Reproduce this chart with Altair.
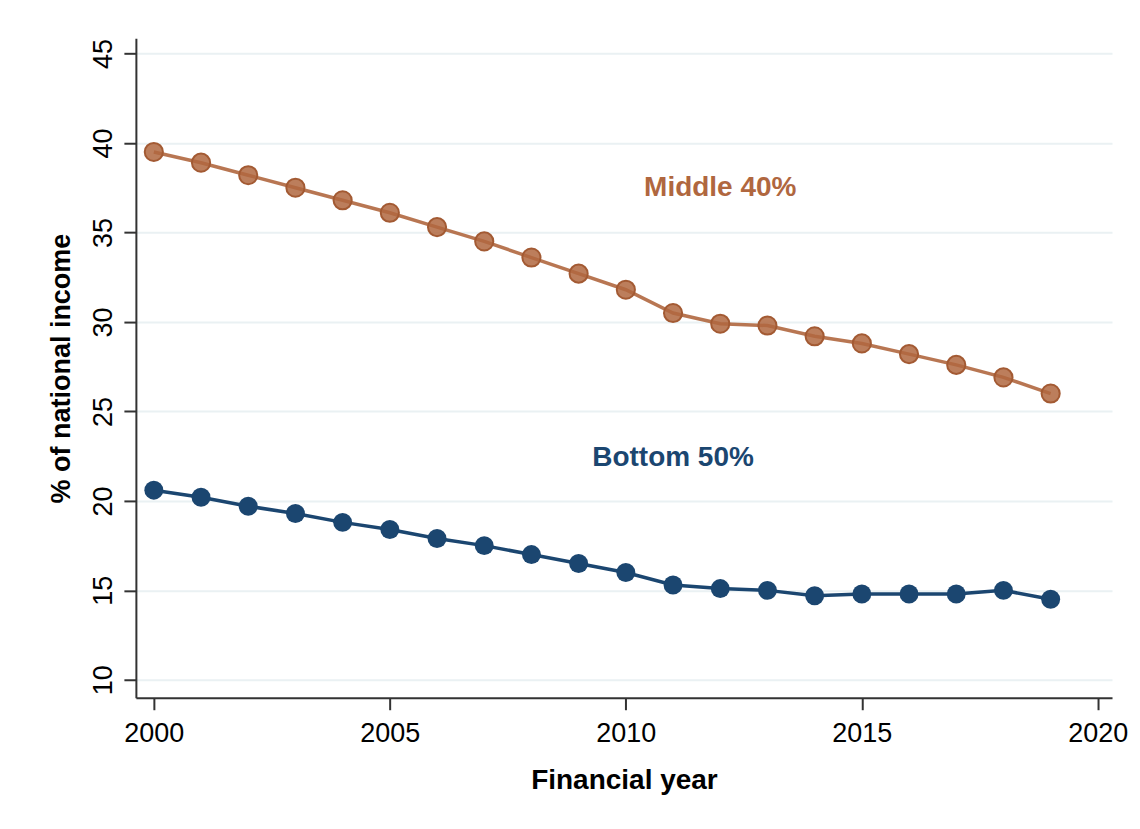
import altair as alt
import pandas as pd

years = list(range(2000, 2020))
middle40 = [39.5, 38.9, 38.2, 37.5, 36.8, 36.1, 35.3, 34.5, 33.6, 32.7,
            31.8, 30.5, 29.9, 29.8, 29.2, 28.8, 28.2, 27.6, 26.9, 26.0]
bottom50 = [20.6, 20.2, 19.7, 19.3, 18.8, 18.4, 17.9, 17.5, 17.0, 16.5,
            16.0, 15.3, 15.1, 15.0, 14.7, 14.8, 14.8, 14.8, 15.0, 14.5]

label_text = ["Middle 40%", "Bottom 50%"]
label_x = [2012.0, 2011.0]
label_y = [37.5, 22.4]

BROWN = "#b0673f"
NAVY = "#1b4670"

df_m = pd.DataFrame({"year": years, "value": middle40})
df_b = pd.DataFrame({"year": years, "value": bottom50})
df_l = pd.DataFrame({"text": label_text, "x": label_x, "y": label_y,
                     "group": ["m", "b"]})

xs = alt.Scale(domain=[1999.62, 2020.3], nice=False, zero=False)
ys = alt.Scale(domain=[9.0, 45.85], nice=False, zero=False)

xax = alt.Axis(values=[2000, 2005, 2010, 2015, 2020], format="d",
               title="Financial year", grid=False, tickSize=12,
               labelFontSize=27, titleFontSize=28, titlePadding=20,
               labelPadding=11)
yax = alt.Axis(values=[10, 15, 20, 25, 30, 35, 40, 45],
               title="% of national income", grid=True, tickSize=12,
               labelAngle=-90, labelAlign="center", labelBaseline="bottom",
               labelFontSize=27, titleFontSize=27, labelPadding=6,
               titlePadding=14)

base_x = alt.X("year:Q", scale=xs, axis=xax)
base_y = alt.Y("value:Q", scale=ys, axis=yax)

line_m = alt.Chart(df_m).mark_line(color=BROWN, strokeWidth=3.5, opacity=0.9).encode(x=base_x, y=base_y)
pts_m = alt.Chart(df_m).mark_point(filled=True, shape="circle", size=330,
                                   fill=BROWN, fillOpacity=0.85,
                                   stroke="#a35a33", strokeWidth=2,
                                   strokeOpacity=1).encode(x=base_x, y=base_y)
line_b = alt.Chart(df_b).mark_line(color=NAVY, strokeWidth=3.5).encode(x=base_x, y=base_y)
pts_b = alt.Chart(df_b).mark_point(filled=True, shape="circle", size=360,
                                   fill=NAVY, opacity=1).encode(x=base_x, y=base_y)

labels = alt.Chart(df_l).mark_text(fontSize=28, fontWeight="bold",
                                   font="Liberation Sans").encode(
    x=alt.X("x:Q", scale=xs),
    y=alt.Y("y:Q", scale=ys),
    text="text:N",
    color=alt.Color("group:N", scale=alt.Scale(domain=["m", "b"], range=[BROWN, NAVY]), legend=None),
)

chart = alt.layer(line_m, pts_m, line_b, pts_b, labels).properties(
    width=977, height=660,
    autosize=alt.AutoSizeParams(type="none"),
    padding={"left": 128, "top": 30, "right": 20, "bottom": 100},
).configure(font="Liberation Sans").configure_axis(
    domainColor="#333333", domainWidth=2, tickColor="#333333", tickWidth=2,
    gridColor="#eaf1f3", gridWidth=2, labelColor="#000000",
    titleColor="#000000", labelFont="Liberation Sans", titleFont="Liberation Sans",
    titleFontWeight="bold", labelFontWeight="normal",
).configure_view(stroke=None)

chart.save("out.html", embed_options={"renderer": "svg", "actions": False})
